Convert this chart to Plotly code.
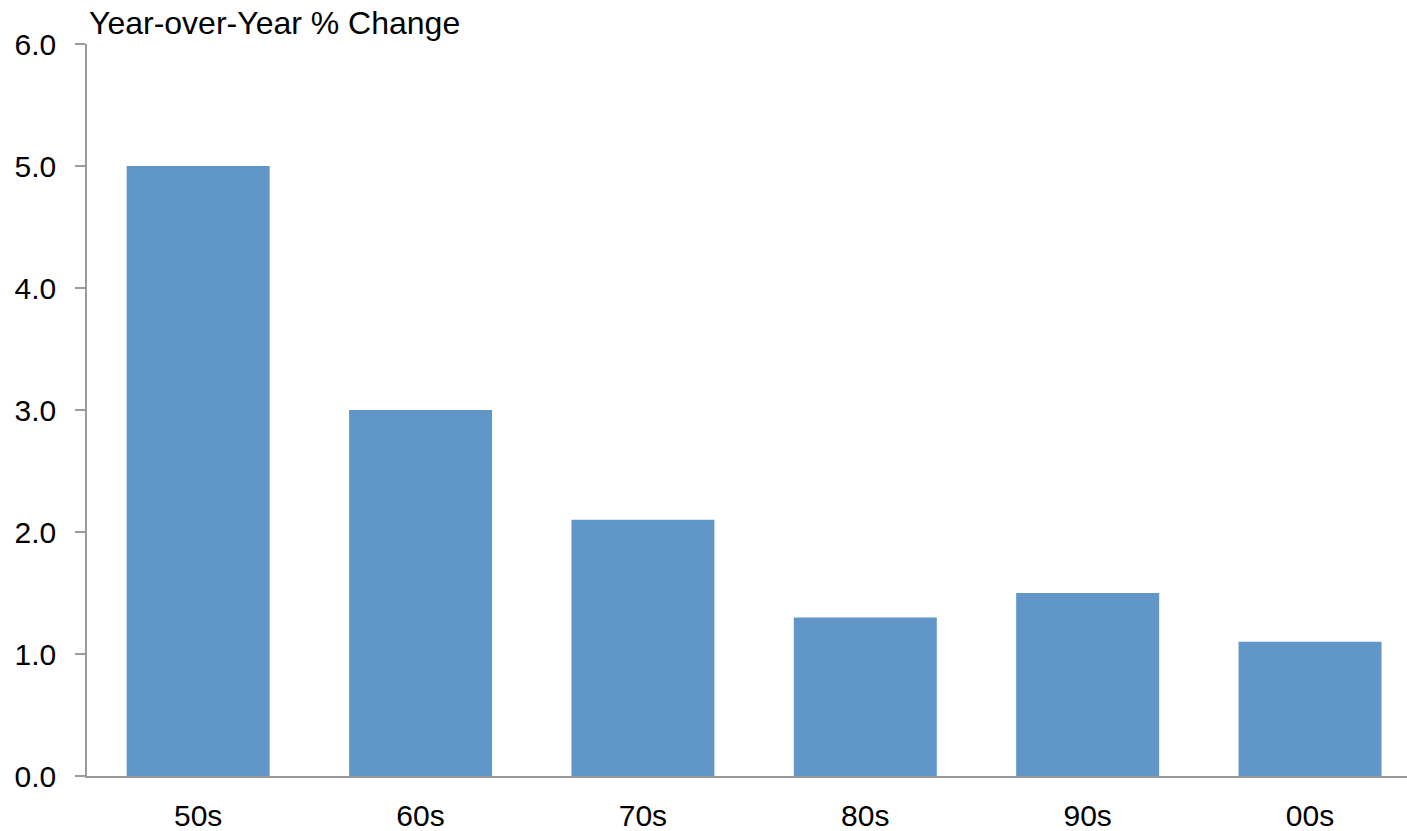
import plotly.graph_objects as go

decades = ["50s", "60s", "70s", "80s", "90s", "00s"]
yoy_change = [5.0, 3.0, 2.1, 1.3, 1.5, 1.1]
y_ticks = [0, 1, 2, 3, 4, 5, 6]
y_tick_labels = ["0.0", "1.0", "2.0", "3.0", "4.0", "5.0", "6.0"]

FONT = "Liberation Sans, Arial, sans-serif"
FONT_SIZE = 30
TITLE_SIZE = 32
AXIS_GREY = "#9a9a9a"

fig = go.Figure(
    go.Bar(
        x=list(range(len(decades))),
        y=yoy_change,
        width=0.643,
        marker=dict(color="#6096C8", line=dict(width=0)),
    )
)

fig.update_layout(
    width=1407,
    height=831,
    margin=dict(l=87, r=0, t=44, b=55),
    paper_bgcolor="white",
    plot_bgcolor="white",
    showlegend=False,
    font=dict(family=FONT, size=FONT_SIZE, color="black"),
    annotations=[
        dict(
            text="Year-over-Year % Change",
            xref="paper", yref="paper",
            x=0.0, y=1.0, xanchor="left", yanchor="bottom",
            showarrow=False, yshift=1, xshift=0,
            font=dict(family=FONT, size=TITLE_SIZE, color="black"),
        )
    ],
)

fig.update_xaxes(
    range=[-0.5, 5.436],
    tickmode="array",
    tickvals=list(range(len(decades))),
    ticktext=decades,
    showline=True, linecolor=AXIS_GREY, linewidth=1.5,
    ticks="", showgrid=False, zeroline=False,
    ticklabelstandoff=12,
)

fig.update_yaxes(
    range=[0, 6],
    tickmode="array",
    tickvals=y_ticks,
    ticktext=y_tick_labels,
    showline=True, linecolor=AXIS_GREY, linewidth=1.5,
    ticks="outside", ticklen=10, tickcolor=AXIS_GREY, tickwidth=1.5,
    showgrid=False, zeroline=False,
    ticklabelstandoff=13,
)

fig.write_html("out.html")
